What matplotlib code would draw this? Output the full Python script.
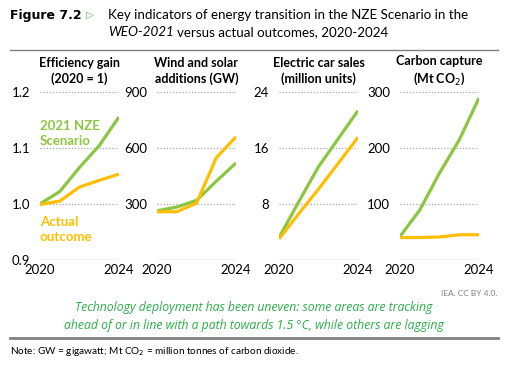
import numpy as np
import matplotlib
matplotlib.use("Agg")
import matplotlib.pyplot as plt

plt.rcParams['font.family'] = ['Lato', 'DejaVu Sans']

years = [2020, 2021, 2022, 2023, 2024]

eff_nze = [1.0, 1.022, 1.065, 1.104, 1.155]
eff_act = [0.999, 1.005, 1.030, 1.042, 1.053]

ws_nze = [263, 283, 319, 421, 519]
ws_act = [258, 258, 304, 546, 659]

ev_nze = [3.2, 8.3, 13.3, 17.3, 21.3]
ev_act = [3.0, 6.6, 10.1, 13.8, 17.5]

cc_nze = [42, 89, 155, 214, 289]
cc_act = [40, 40, 41, 45, 45]

titles = ["Efficiency gain\n(2020 = 1)", "Wind and solar\nadditions (GW)",
          "Electric car sales\n(million units)", "Carbon capture\n(Mt CO$_2$)"]
yticks = [[0.9, 1.0, 1.1, 1.2], [0, 300, 600, 900], [0, 8, 16, 24], [0, 100, 200, 300]]
ylabels = [["0.9", "1.0", "1.1", "1.2"], ["", "300", "600", "900"],
           ["", "8", "16", "24"], ["", "100", "200", "300"]]
nze = [eff_nze, ws_nze, ev_nze, cc_nze]
act = [eff_act, ws_act, ev_act, cc_act]

green = "#8CC540"
orange = "#FFBE00"
W, H = 506, 366

fig = plt.figure(figsize=(W/100, H/100), dpi=100)

lefts = [40, 157, 279, 400]
for i in range(4):
    ax = fig.add_axes([lefts[i]/W, 106/H, 79/W, 168.3/H])
    lo, hi = yticks[i][0], yticks[i][-1]
    for t in yticks[i][1:]:
        ax.axhline(t, color="#a6a6a6", lw=0.9, ls=(0, (1, 1.5)), zorder=1)
    ax.axhline(lo, color="#bfbfbf", lw=1.0, zorder=1)
    ax.plot(years, nze[i], color=green, lw=2.3, zorder=3, solid_capstyle='butt')
    ax.plot(years, act[i], color=orange, lw=2.3, zorder=4, solid_capstyle='butt')
    ax.set_xlim(2020, 2024)
    ax.set_ylim(lo, hi)
    ax.set_xticks([2020, 2024])
    ax.set_xticklabels(["2020", "2024"], fontsize=9.5)
    ax.set_yticks(yticks[i])
    ax.set_yticklabels(ylabels[i], fontsize=9.5)
    ax.tick_params(length=0, pad=3)
    ax.tick_params(axis='y', pad=7)
    for s in ax.spines.values():
        s.set_visible(False)
    ax.set_title(titles[i], fontsize=9, fontweight='bold', pad=6, linespacing=1.35)
    if i == 0:
        ax.text(2020, 1.125, "2021 NZE\nScenario", color=green, fontsize=9.5,
                fontweight='bold', va='center', linespacing=1.3)
        ax.text(2020, 0.955, "Actual\noutcome", color=orange, fontsize=9.5,
                fontweight='bold', va='center', linespacing=1.3)

fig_lbl = fig.text(10/W, 1 - 15/H, "Figure 7.2", fontsize=9, fontweight='heavy',
                   va='center', family=['DejaVu Sans'])
fig.canvas.draw()
fb = fig_lbl.get_window_extent()
fig.text(fb.x1/W + 4/W, 1 - 15/H, "\u25b7", fontsize=7.5, color="#5cb85c", va='center',
         family=['DejaVu Sans'])
fig.text(108/W, 1 - 15/H,
         "Key indicators of energy transition in the NZE Scenario in the",
         fontsize=9.6, va='center')
t1 = fig.text(108/W, 1 - 32/H, "WEO-2021", fontsize=9.6, va='center', style='italic')
fig.canvas.draw()
bb = t1.get_window_extent()
fig.text(bb.x1/W + 3/W, 1 - 32/H, "versus actual outcomes, 2020-2024",
         fontsize=9.6, va='center')
fig.add_artist(plt.Line2D([10/W, 498/W], [1 - 50/H, 1 - 50/H], color="#808080", lw=1))

fig.text(497/W, 1 - 293/H, "IEA. CC BY 4.0.", fontsize=6, color="#808080",
         ha='right', va='center')
fig.text(254/W, 1 - 316/H,
         "Technology deployment has been uneven: some areas are tracking\n"
         "ahead of or in line with a path towards 1.5 \u00b0C, while others are lagging",
         fontsize=8.8, color="#2BAE48", style='italic', ha='center', va='center',
         linespacing=1.5, family=['Open Sans', 'DejaVu Sans'])
fig.add_artist(plt.Line2D([10/W, 498/W], [1 - 338/H, 1 - 338/H], color="#808080", lw=2))
fig.text(10/W, 1 - 351/H, "Note: GW = gigawatt; Mt CO$_2$ = million tonnes of carbon dioxide.",
         fontsize=7.2, va='center')

fig.savefig("out.png", dpi=100)
